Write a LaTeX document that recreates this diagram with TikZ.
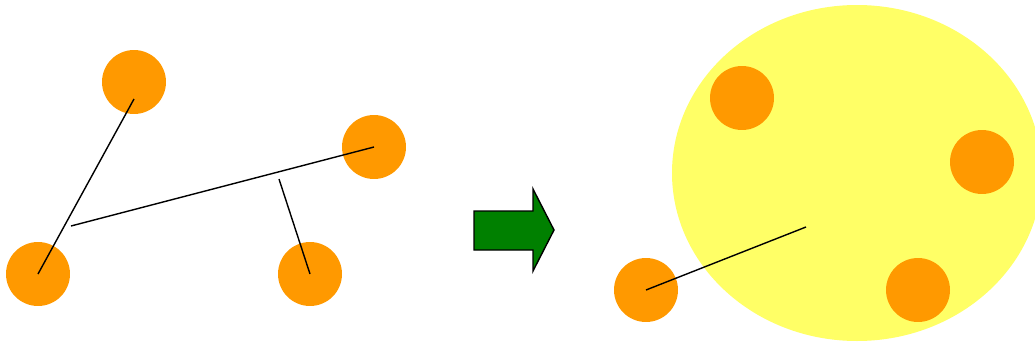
\documentclass[tikz,border=0pt]{standalone}
\usepackage{xcolor}
\usepackage{tikz}
\usetikzlibrary{positioning,calc}
\definecolor{dotorange}{HTML}{FF9900}
\definecolor{blobyellow}{HTML}{FFFF66}
\definecolor{arrowgreen}{HTML}{008000}
\tikzset{
point/.style={
circle,
fill=dotorange,
minimum size=1.28cm,
inner sep=0pt
},
link/.style={
line width=0.8pt,
black
},
bigarrow/.style={
draw=black,
fill=arrowgreen,
line width=0.8pt,
line join=miter
}
}

\begin{document}
\begin{tikzpicture}[x=0.02cm,y=-0.02cm]
\clip(0,0)rectangle(1035,345);
\useasboundingbox(0,0)rectangle(1035,345);

% before
\node[point](p1)at(134,82){};
\node[point](p2)at(374,147){};
\node[point](p3)at(38,274){};
\node[point](p4)at(310,274){};
\coordinate(m0)at(134,99);
\coordinate(m1)at(71,226);
\coordinate(m2)at(279,179);

\draw[link](m0)--(p3.center);
\draw[link](m1)--(p2.center);
\draw[link](m2)--(p4.center);

% step
\draw[bigarrow](474,211)--(533,211)--(533,189)--(554,230)--(533,271)--(533,250)--(474,250)--cycle;

% after
\fill[blobyellow](857,173)ellipse[x radius=185,y radius=168];
\node[point](q1)at(742,98){};
\node[point](q2)at(982,162){};
\node[point](q3)at(918,290){};
\node[point](q4)at(646,290){};
\coordinate(c)at(806,227);

\draw[link](q4.center)--(c);
\end{tikzpicture}
\end{document}
